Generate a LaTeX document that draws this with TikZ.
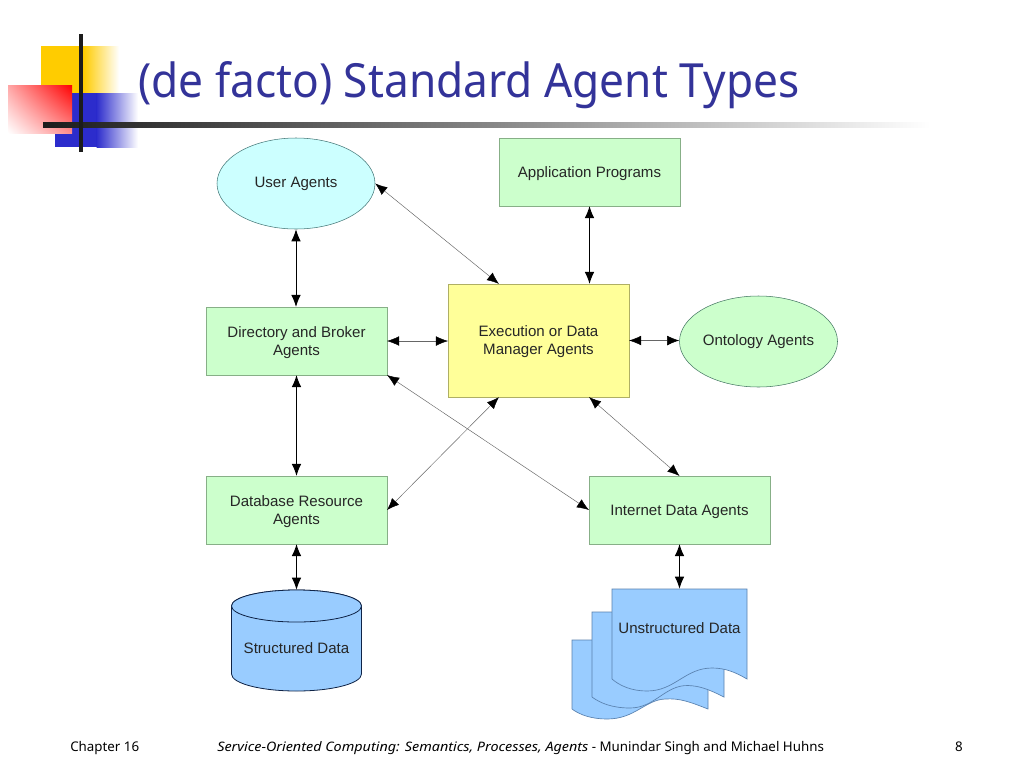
\documentclass[tikz,border=0pt]{standalone}
\usepackage{fontspec}
\setmainfont{Liberation Sans}
\newfontfamily\tahomalike{Noto Sans}
\newfontfamily\titlefont[FakeStretch=0.94]{Noto Sans}
\newfontfamily\footit[FakeStretch=1.1]{Noto Sans}
\usetikzlibrary{arrows.meta,calc,shapes.geometric,shadings}
\newcommand{\lowertext}{\rule{0pt}{10pt}}
\definecolor{titleblue}{RGB}{51,51,153}
\definecolor{boxgreen}{RGB}{204,255,204}
\definecolor{boxyellow}{RGB}{255,255,153}
\definecolor{boxcyan}{RGB}{204,255,255}
\definecolor{boxblue}{RGB}{153,204,255}
\definecolor{logoyellow}{RGB}{255,204,0}
\definecolor{logoblue}{RGB}{44,44,204}
\definecolor{logored}{RGB}{255,0,0}
\definecolor{logoink}{RGB}{28,28,28}
\definecolor{greenedge}{RGB}{135,175,135}
\definecolor{yellowedge}{RGB}{175,175,100}
\definecolor{cyanedge}{RGB}{70,120,120}
\definecolor{greenedgeb}{RGB}{70,120,100}
\definecolor{docedge}{RGB}{90,130,175}
\definecolor{cylink}{RGB}{15,35,70}
\tikzset{
  x=0.75pt,y=-0.75pt,
  label text/.style={font=\fontsize{11.3pt}{13.5pt}\selectfont,text=black!85,align=center,inner sep=0pt},
  greenbox/.style={draw=greenedge,line width=0.4pt,fill=boxgreen,minimum width=135.4pt,minimum height=50.7pt,label text},
  yellowbox/.style={draw=yellowedge,line width=0.4pt,fill=boxyellow,minimum width=135.4pt,minimum height=84.5pt,label text},
  agentoval/.style={ellipse,draw=#1,line width=0.4pt,minimum width=118.5pt,minimum height=68.25pt,label text},
  link/.style={{Latex[length=9pt,width=7.2pt]}-{Latex[length=9pt,width=7.2pt]},line width=0.7pt,black},
  thinlink/.style={line width=0.35pt,draw=black!60,{Latex[length=9pt,width=7.2pt,color=black]}-{Latex[length=9pt,width=7.2pt,color=black]}},
  docsheet/.style={draw=docedge,line width=0.5pt,fill=boxblue},
  footer/.style={font=\tahomalike\fontsize{10pt}{12pt}\selectfont,text=black,inner sep=0pt},
}
\begin{document}
\begin{tikzpicture}
\useasboundingbox (0,0) rectangle (1024,768);
\fill[white] (0,0) rectangle (1024,768);
% logo
\fill[logoyellow] (41,46) rectangle (84,94);
\shade[left color=logoyellow,right color=white] (83.5,46) rectangle (119,94);
\fill[logoblue] (55,93) rectangle (97,147);
\shade[left color=logoblue,right color=white] (96.5,93) rectangle (138,147);
\shade[lower left=white,upper right=logored,upper left=logored!35!white,lower right=logored!45!white] (8,85) rectangle (72,133);
\shade[left color=logoink,right color=white,middle color=black!48] (43,122) rectangle (930,127);
\fill[logoink] (79.3,34) rectangle (82.7,152);
% title
\node[anchor=base west,inner sep=0pt,font=\titlefont\fontsize{35.3pt}{40pt}\selectfont,text=titleblue] (title) at (138,97) {(de facto) Standard Agent Types};
% nodes
\node[agentoval=cyanedge,fill=boxcyan] (user) at (296,183.5) {User Agents};
\node[greenbox] (app) at (589.5,172) {\lowertext Application Programs};
\node[greenbox] (dir) at (296.5,341) {\lowertext Directory and Broker\\Agents};
\node[yellowbox] (exec) at (538.5,340.5) {\lowertext Execution or Data\\Manager Agents};
\node[agentoval=greenedgeb,fill=boxgreen] (onto) at (758.5,341.5) {Ontology Agents};
\node[greenbox] (db) at (296.5,510) {\lowertext Database Resource\\Agents};
\node[greenbox] (inet) at (679.5,510) {\lowertext Internet Data Agents};
% cylinder
\draw[draw=cylink,line width=0.6pt,fill=boxblue] (231.5,606) -- (231.5,674) arc[start angle=180,end angle=360,x radius=65,y radius=-17] -- (361.5,606) arc[start angle=0,end angle=180,x radius=65,y radius=-16] -- cycle;
\draw[draw=cylink,line width=0.6pt,fill=boxblue] (296.5,606) ellipse[x radius=65,y radius=16];
\node[minimum width=97.5pt,minimum height=75.75pt,inner sep=0pt] (sdata) at (296.5,640.5) {};
\node[label text] (sdatatext) at (296.5,648) {Structured Data};
% documents
\draw[docsheet] (572,640) -- (708,640) -- (708,709) .. controls (690,702) and (680,698) .. (665,699) .. controls (645,700) and (635,719) .. (607,719) .. controls (592,719) and (580,715) .. (572,709) -- cycle;
\draw[docsheet] (592,612) -- (724,612) -- (724,697) .. controls (708,689) and (700,686) .. (688,685.5) .. controls (665,685) and (655,708) .. (630,708) .. controls (612,708) and (600,703) .. (592,697) -- cycle;
\draw[docsheet] (612,589) -- (747,589) -- (747,679) .. controls (735,672) and (725,668) .. (712,668) .. controls (685,668) and (675,691) .. (647,691) .. controls (632,691) and (620,686) .. (612,679) -- cycle;
\node[minimum width=101.25pt,minimum height=67.5pt,inner sep=0pt] (udata) at (679.5,634) {};
\node[label text] (udatatext) at (679.5,628) {Unstructured Data};
% connectors
\draw[thinlink] (user.east) -- ($(exec.north west)+(51,0)$);
\draw[link] (app.south) -- (app.south |- exec.north);
\draw[link] (user.south) -- (user.south |- dir.north);
\draw[thinlink] (dir.east) -- (dir.east -| exec.west);
\draw[thinlink] (exec.east) -- (exec.east -| onto.west);
\draw[thinlink] (dir.south east) -- (inet.west);
\draw[thinlink] ($(exec.south west)+(51,0)$) -- (db.east);
\draw[link] (dir.south) -- (db.north);
\draw[thinlink] ($(exec.south east)+(-40,0)$) -- (inet.north);
\draw[link] (db.south) -- (sdata.north);
\draw[link] (inet.south) -- (udata.north);
% footer
\node[footer,anchor=base west] (fchapter) at (70,751) {Chapter 16};
\node[footer,anchor=base west] (fcredit) at (217,751) {{\footit\itshape\fontsize{9.8pt}{12pt}\selectfont Service-Oriented Computing: Semantics, Processes, Agents} - Munindar Singh and Michael Huhns};
\node[footer,anchor=base east] (fpage) at (963,751) {8};
\end{tikzpicture}
\end{document}
